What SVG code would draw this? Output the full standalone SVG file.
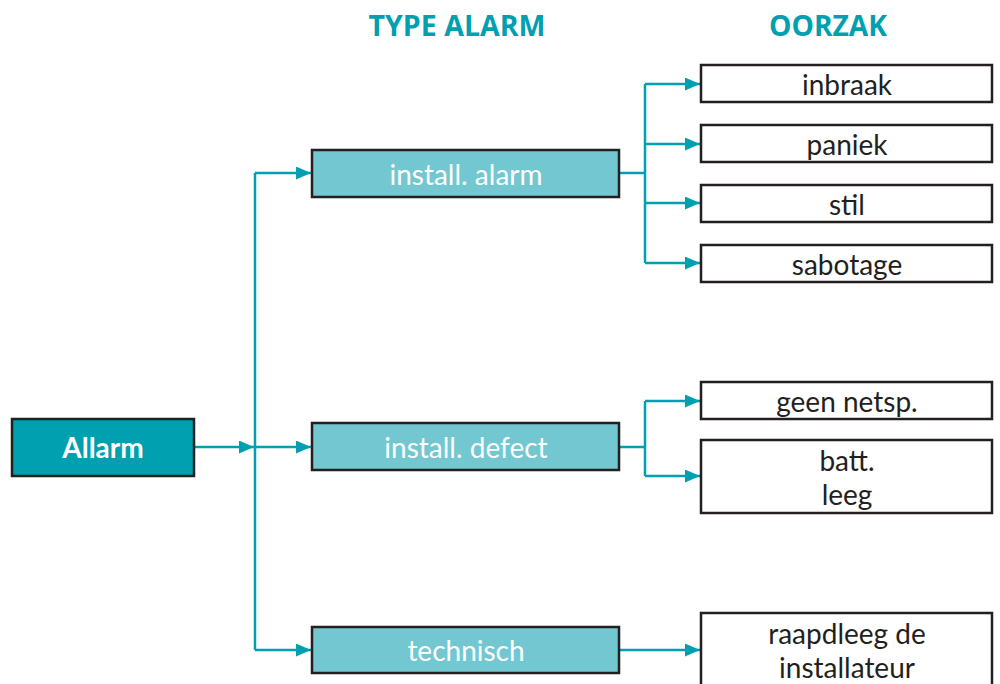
<svg xmlns="http://www.w3.org/2000/svg" width="1000" height="684" viewBox="0 0 1000 684">
<style>
.box{stroke:#231f20;stroke-width:2.5}
.root{fill:#00a0b0}
.mid{fill:#72c7d0}
.leaf{fill:#ffffff}
.t{font-family:Lato,"Open Sans",sans-serif;font-size:28px;text-anchor:middle}
.tw{fill:#ffffff}
.tk{fill:#231f20}
.hd{font-family:"Open Sans","Noto Sans",sans-serif;font-size:29px;font-weight:bold;fill:#00a0b0;text-anchor:middle}
.c{fill:none;stroke:#00a0b0;stroke-width:2.5}
</style>
<defs>
<marker id="ah" viewBox="0 0 15 13" refX="15" refY="6.5" markerWidth="15" markerHeight="13" markerUnits="userSpaceOnUse" orient="auto">
<path d="M0,0 L15,6.5 L0,13 z" fill="#00a0b0"/>
</marker>
</defs>
<g id="headers">
<text class="hd" x="457" y="36" textLength="177" lengthAdjust="spacingAndGlyphs">TYPE ALARM</text>
<text class="hd" x="828" y="36" textLength="118" lengthAdjust="spacingAndGlyphs">OORZAK</text>
</g>
<g id="connectors">
<path class="c" d="M194,447 H254" marker-end="url(#ah)"/>
<path class="c" d="M255,173 V650"/>
<path class="c" d="M255,173 H311" marker-end="url(#ah)"/>
<path class="c" d="M255,447 H311" marker-end="url(#ah)"/>
<path class="c" d="M255,650 H311" marker-end="url(#ah)"/>
<path class="c" d="M619,173 H645"/>
<path class="c" d="M645,84 V263"/>
<path class="c" d="M645,84 H700" marker-end="url(#ah)"/>
<path class="c" d="M645,144 H700" marker-end="url(#ah)"/>
<path class="c" d="M645,203 H700" marker-end="url(#ah)"/>
<path class="c" d="M645,263 H700" marker-end="url(#ah)"/>
<path class="c" d="M619,447 H645"/>
<path class="c" d="M645,401 V476"/>
<path class="c" d="M645,401 H700" marker-end="url(#ah)"/>
<path class="c" d="M645,476 H700" marker-end="url(#ah)"/>
<path class="c" d="M619,650 H700" marker-end="url(#ah)"/>
</g>
<g id="allarm">
<rect class="box root" x="12" y="419" width="182" height="57"/>
<text class="t tw" x="103" y="458" style="font-weight:bold">Allarm</text>
</g>
<g id="install-alarm">
<rect class="box mid" x="312" y="150" width="307" height="47"/>
<text class="t tw" x="466" y="185">install. alarm</text>
</g>
<g id="install-defect">
<rect class="box mid" x="312" y="423" width="307" height="47"/>
<text class="t tw" x="466" y="458">install. defect</text>
</g>
<g id="technisch">
<rect class="box mid" x="312" y="627" width="307" height="46"/>
<text class="t tw" x="466" y="661">technisch</text>
</g>
<g id="inbraak">
<rect class="box leaf" x="701" y="65" width="291" height="37"/>
<text class="t tk" x="847" y="95">inbraak</text>
</g>
<g id="paniek">
<rect class="box leaf" x="701" y="125" width="291" height="37"/>
<text class="t tk" x="847" y="155">paniek</text>
</g>
<g id="stil">
<rect class="box leaf" x="701" y="185" width="291" height="37"/>
<text class="t tk" x="847" y="215">stil</text>
</g>
<g id="sabotage">
<rect class="box leaf" x="701" y="245" width="291" height="37"/>
<text class="t tk" x="847" y="275">sabotage</text>
</g>
<g id="geen-netsp">
<rect class="box leaf" x="701" y="382" width="291" height="37"/>
<text class="t tk" x="847" y="412">geen netsp.</text>
</g>
<g id="batt-leeg">
<rect class="box leaf" x="701" y="440" width="291" height="73"/>
<text class="t tk" x="847" y="471">batt.<tspan x="847" dy="34">leeg</tspan></text>
</g>
<g id="raapdleeg">
<rect class="box leaf" x="701" y="613" width="291" height="80"/>
<text class="t tk" x="847" y="644">raapdleeg de<tspan x="847" dy="34">installateur</tspan></text>
</g>
</svg>
